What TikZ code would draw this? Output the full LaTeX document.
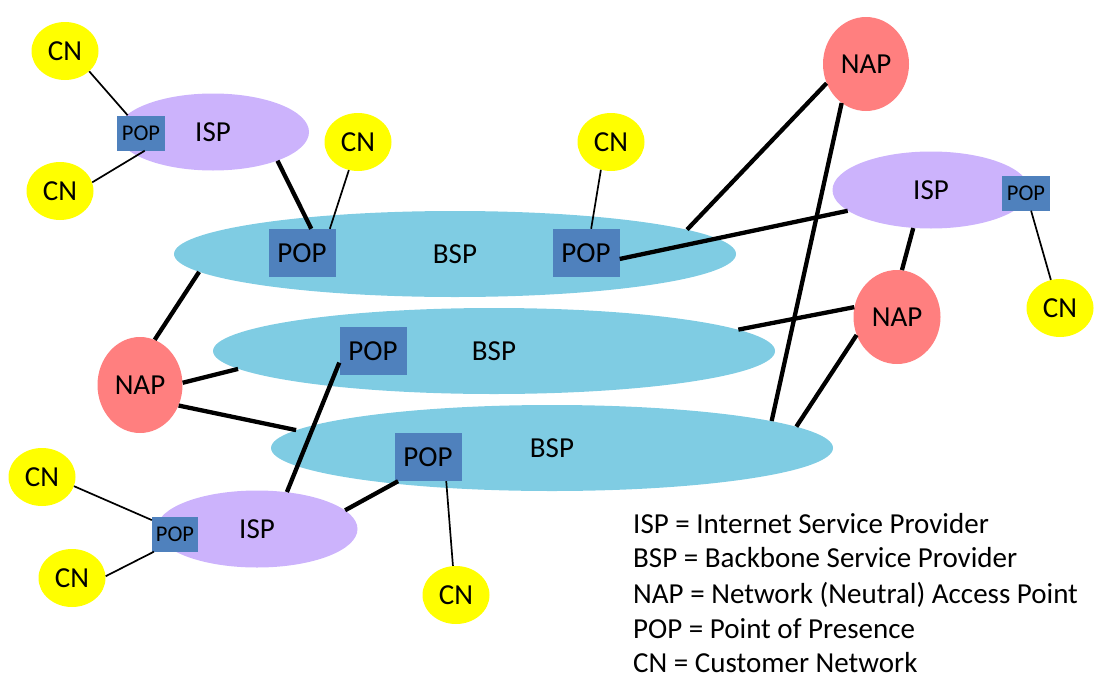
\documentclass[tikz,border=0pt]{standalone}
\usepackage{fontspec}
\setmainfont{Carlito}
\usetikzlibrary{shapes.geometric}
\definecolor{bspcol}{HTML}{7FCCE3}
\definecolor{ispcol}{HTML}{CCB3FC}
\definecolor{popcol}{HTML}{4F81BD}
\definecolor{cncol}{HTML}{FFFF00}
\definecolor{napcol}{HTML}{FF7F7F}
\begin{document}
\begin{tikzpicture}[x=1pt,y=-1pt,
 every node/.style={inner sep=0pt, font=\fontsize{29}{35}\selectfont},
 bspnode/.style={ellipse, fill=bspcol, minimum width=562pt, minimum height=86pt},
 ispnode/.style={ellipse, fill=ispcol, minimum width=196pt, minimum height=77pt},
 popbig/.style={rectangle, fill=popcol, minimum width=67pt, minimum height=48pt},
 popsmall/.style={rectangle, fill=popcol, minimum width=48pt, minimum height=35pt, font=\fontsize{22.5}{27}\selectfont},
 cnnode/.style={ellipse, fill=cncol, minimum width=67pt, minimum height=58pt},
 napnode/.style={ellipse, fill=napcol, minimum width=86pt, minimum height=94pt},
 thickline/.style={line width=4.3pt},
 thinline/.style={line width=1.7pt},
 legendline/.style={anchor=base west}
]
\useasboundingbox (0,0) rectangle (1118,696);

% backbone providers
\node[bspnode] (bsp1) at (455,254) {BSP};
\node[bspnode] (bsp2) at (494,351) {BSP};
\node[bspnode] (bsp3) at (552,448) {BSP};

% ISPs
\node[ispnode, minimum width=192pt] (isp1) at (213,132) {ISP};
\node[ispnode, minimum width=197pt] (isp2) at (931,190) {ISP};
\node[ispnode, minimum width=201pt] (isp3) at (257,529) {ISP};

% customer networks
\node[cnnode] (cn1) at (65,51) {CN};
\node[cnnode] (cn2) at (60,191) {CN};
\node[cnnode] (cn3) at (358,142) {CN};
\node[cnnode] (cn4) at (611,142) {CN};
\node[cnnode] (cn5) at (1060,308) {CN};
\node[cnnode] (cn6) at (42,477) {CN};
\node[cnnode] (cn7) at (72,578) {CN};
\node[cnnode] (cn8) at (456,595) {CN};

% NAPs
\node[napnode] (nap1) at (866,64) {NAP};
\node[napnode, minimum width=87pt] (nap2) at (897,317) {NAP};
\node[napnode, minimum width=85pt, minimum height=96pt] (nap3) at (140,385) {NAP};

% POPs
\node[popsmall] (popS1) at (141,133) {POP};
\node[popsmall] (popS2) at (1026,193) {POP};
\node[popsmall, minimum width=46pt] (popS3) at (175,534) {POP};
\node[popbig] (popA) at (302,253) {POP};
\node[popbig] (popB) at (586,253) {POP};
\node[popbig] (popC) at (373,351) {POP};
\node[popbig] (popD) at (428,457) {POP};

% thin connectors
\draw[thinline] (cn1.-40) -- (popS1.127);
\draw[thinline] (cn2.15) -- (popS1.-78);
\draw[thinline] (cn3.-108) -- (popA.41.6);
\draw[thinline] (cn4.-110) -- (popB.78);
\draw[thinline] (popS2.-74) -- (cn5.108);
\draw[thinline] (cn6.-16) -- (popS3.149);
\draw[thinline] (cn7.3) -- (popS3.-140);
\draw[thinline] (popD.-53) -- (cn8.96);

% thick connectors
\draw[thickline] (isp1.-24) -- (popA.69);
\draw[thickline] (bsp1.-176.2) -- (nap3.72.6);
\draw[thickline] (nap3.3) -- (bsp2.-176.7);
\draw[thickline] (nap3.-28.5) -- (bsp3.176.8);
\draw[thickline] (isp3.51.7) -- (popC.-161.6);
\draw[thickline] (isp3.12.2) -- (popD.-141.3);
\draw[thickline] (bsp1.6.8) -- (nap1.-154);
\draw[thickline] (nap1.-122) -- (bsp3.7.8);
\draw[thickline] (popB.-10) -- (isp2.-166.5);
\draw[thickline] (isp2.-115.4) -- (nap2.84);
\draw[thickline] (bsp2.5.9) -- (nap2.167);
\draw[thickline] (nap2.-156) -- (bsp3.5.9);

% legend
\node[legendline] (l1) at (633,533) {ISP = Internet Service Provider};
\node[legendline] (l2) at (633,567) {BSP = Backbone Service Provider};
\node[legendline] (l3) at (633,603) {NAP = Network (Neutral) Access Point};
\node[legendline] (l4) at (633,638) {POP = Point of Presence};
\node[legendline] (l5) at (633,672) {CN = Customer Network};
\end{tikzpicture}
\end{document}
